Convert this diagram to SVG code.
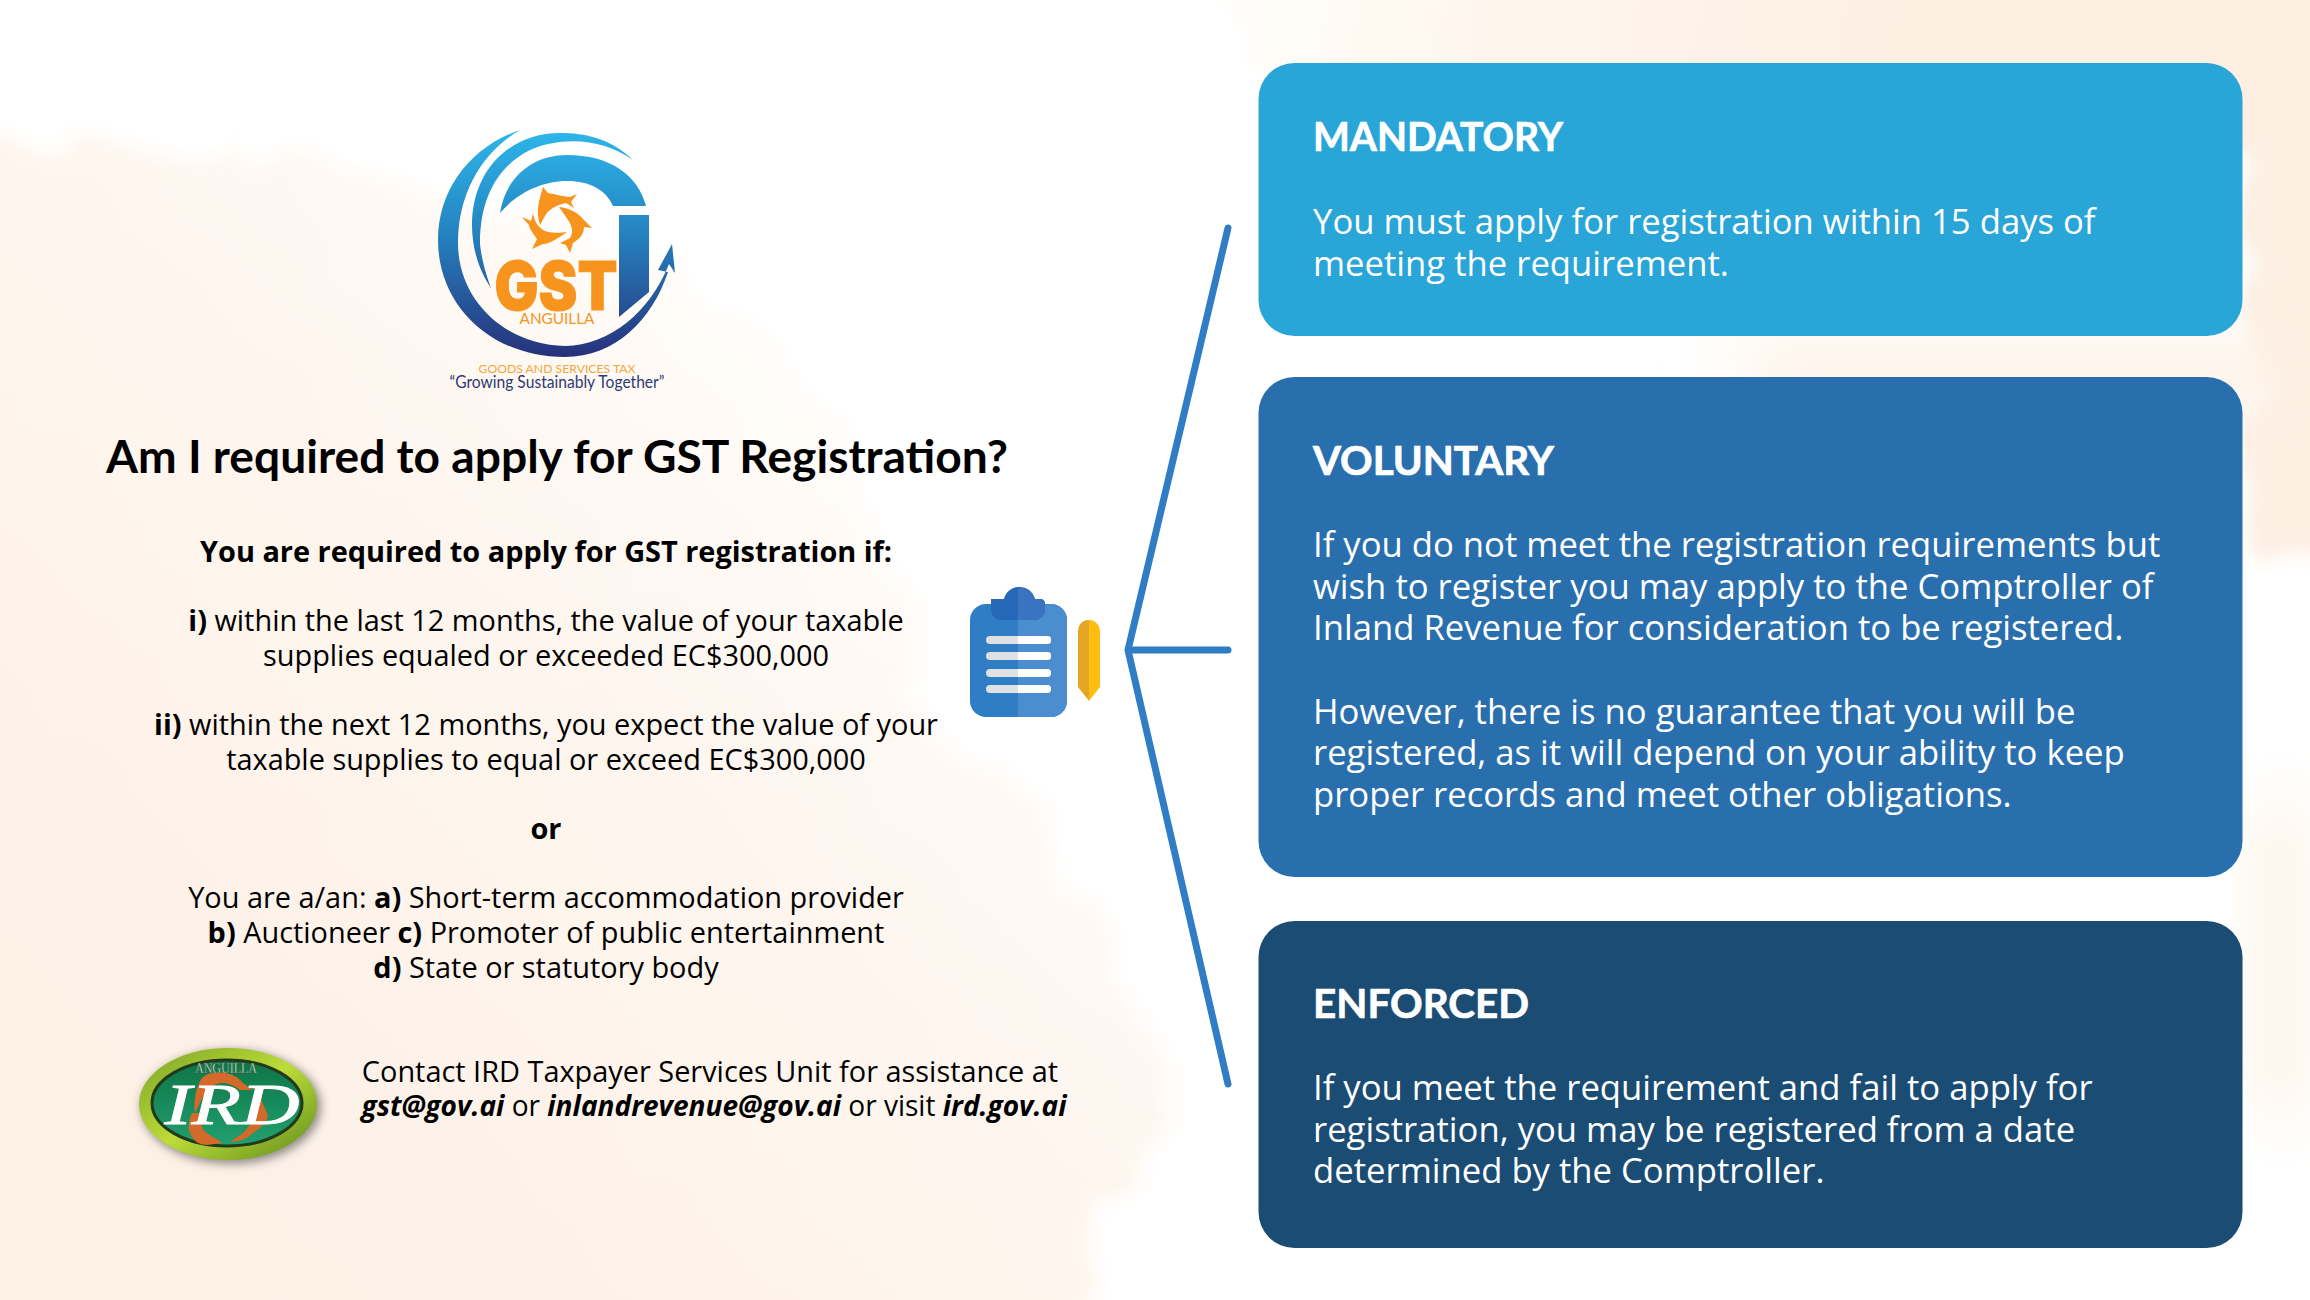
<svg xmlns="http://www.w3.org/2000/svg" width="2310" height="1300" viewBox="0 0 2310 1300">
<style>
.b{font-family:"Open Sans","Noto Sans",sans-serif;font-size:34.67px;fill:#fff}
.h{font-family:"Lato","Open Sans",sans-serif;font-size:40px;font-weight:700;fill:#fff;stroke:#fff;stroke-width:.7}
.t{font-family:"Open Sans","Noto Sans",sans-serif;font-size:28.9px;fill:#000;text-anchor:middle}
.s{font-weight:700}
.i{font-style:italic;font-weight:700}
.c{fill:none;stroke:#2f7dc4;stroke-width:7;stroke-linecap:round;stroke-linejoin:round}
.o{fill:#f7941e}
.d{fill:#d36a2a}
</style>
<defs>
<filter id="wash" x="-10%" y="-10%" width="120%" height="120%"><feTurbulence type="fractalNoise" baseFrequency=".012" numOctaves="4" seed="7"/><feDisplacementMap in="SourceGraphic" scale="70" xChannelSelector="R" yChannelSelector="G"/><feGaussianBlur stdDeviation="9"/></filter>
<filter id="bl" x="-30%" y="-30%" width="160%" height="160%"><feGaussianBlur stdDeviation="30"/></filter>
<filter id="bl2" x="-30%" y="-30%" width="160%" height="160%"><feGaussianBlur stdDeviation="5"/></filter>
<linearGradient id="lg" gradientUnits="userSpaceOnUse" x1="0" y1="130" x2="0" y2="357"><stop offset="0" stop-color="#2db7ea"/><stop offset=".45" stop-color="#2583c0"/><stop offset="1" stop-color="#27317a"/></linearGradient>
<linearGradient id="ov" x1="0" y1="0" x2="0" y2="1"><stop offset="0" stop-color="#0d7447"/><stop offset="1" stop-color="#22a06f"/></linearGradient>
<linearGradient id="rim" x1="0" y1="0" x2="1" y2="1"><stop offset="0" stop-color="#7da328"/><stop offset=".5" stop-color="#bcdc38"/><stop offset="1" stop-color="#5f8a1c"/></linearGradient>
<linearGradient id="wa" gradientUnits="userSpaceOnUse" x1="100" y1="1250" x2="1000" y2="350"><stop offset="0" stop-color="#fdf0e4"/><stop offset=".6" stop-color="#fef6ef"/><stop offset="1" stop-color="#fffefd"/></linearGradient>
<linearGradient id="wb" gradientUnits="userSpaceOnUse" x1="1230" y1="0" x2="1900" y2="0"><stop offset="0" stop-color="#fffdfa"/><stop offset=".4" stop-color="#fef6ed"/><stop offset="1" stop-color="#fdefe2"/></linearGradient>
</defs>
<rect width="2310" height="1300" fill="#fff"/>
<g id="background">
<path filter="url(#wash)" fill="url(#wa)" d="M-80 140 C100 130 200 170 300 165 C450 160 600 250 760 330 C850 400 900 550 920 700 C1000 800 1150 950 1180 1120 C1100 1200 1080 1260 1060 1360 L-80 1360 Z"/>
<path filter="url(#wash)" fill="url(#wb)" d="M1210 -60 H2370 V560 L2250 560 L2250 150 L1300 170 C1270 120 1240 60 1210 -60 Z"/>
<path filter="url(#bl)" fill="#fdf1e4" d="M1700 335 H2310 V420 H1800 Z" opacity=".8"/>
<path filter="url(#bl)" fill="#fdf1e4" d="M2250 800 H2310 V1120 H2250 Z" opacity=".8"/>
</g>
<g id="connectors">
<path class="c" d="M1228 228 L1128 650 L1228 1084"/>
<path class="c" d="M1130 650 L1228 650"/>
</g>
<g id="mandatory">
<rect x="1258.5" y="63" width="984" height="273" rx="36" fill="#29a5d7"/>
<text class="h" x="1313" y="151" textLength="250" lengthAdjust="spacingAndGlyphs">MANDATORY</text>
<text class="b" x="1313" y="234">You must apply for registration within 15 days of</text>
<text class="b" x="1313" y="276">meeting the requirement.</text>
</g>
<g id="voluntary">
<rect x="1258.5" y="377" width="984" height="500" rx="36" fill="#2a6fad"/>
<text class="h" x="1313" y="475" textLength="241" lengthAdjust="spacingAndGlyphs">VOLUNTARY</text>
<text class="b" x="1313" y="557">If you do not meet the registration requirements but</text>
<text class="b" x="1313" y="599">wish to register you may apply to the Comptroller of</text>
<text class="b" x="1313" y="640">Inland Revenue for consideration to be registered.</text>
<text class="b" x="1313" y="724">However, there is no guarantee that you will be</text>
<text class="b" x="1313" y="765">registered, as it will depend on your ability to keep</text>
<text class="b" x="1313" y="807">proper records and meet other obligations.</text>
</g>
<g id="enforced">
<rect x="1258.5" y="921" width="984" height="327" rx="36" fill="#1b4c74"/>
<text class="h" x="1313" y="1018" textLength="216" lengthAdjust="spacingAndGlyphs">ENFORCED</text>
<text class="b" x="1313" y="1100">If you meet the requirement and fail to apply for</text>
<text class="b" x="1313" y="1142">registration, you may be registered from a date</text>
<text class="b" x="1313" y="1183">determined by the Comptroller.</text>
</g>
<g id="clipboard">
<rect x="970" y="604" width="97" height="113" rx="16" fill="#2f7dc4"/>
<path d="M1018 604 H1051 A16 16 0 0 1 1067 620 V701 A16 16 0 0 1 1051 717 H1018 Z" fill="#4a8ed0"/>
<path d="M991 599 H1004 C1008 583 1031 583 1035 599 H1040 Q1045 599 1045 604 V608 Q1045 620 1033 620 H1003 Q991 620 991 608 Z" fill="#2767b8"/>
<path d="M1018 588 C1026 588 1032 592 1035 599 H1040 Q1045 599 1045 604 V608 Q1045 620 1033 620 H1018 Z" fill="#3a73bf"/>
<g fill="#dfe1e3"><rect x="986" y="636" width="65" height="8" rx="4"/><rect x="986" y="652" width="65" height="8" rx="4"/><rect x="986" y="669" width="65" height="8" rx="4"/><rect x="986" y="685" width="65" height="8" rx="4"/></g>
<g fill="#fff"><path d="M1018 636 H1047 a4 4 0 0 1 0 8 H1018 Z"/><path d="M1018 652 H1047 a4 4 0 0 1 0 8 H1018 Z"/><path d="M1018 669 H1047 a4 4 0 0 1 0 8 H1018 Z"/><path d="M1018 685 H1047 a4 4 0 0 1 0 8 H1018 Z"/></g>
<path d="M1089 620 C1081 620 1078 626 1078 632 V687 L1089 701 Z" fill="#e3a725"/>
<path d="M1089 620 C1096 620 1100 626 1100 632 V687 L1089 701 Z" fill="#ffbd0f"/>
</g>
<g id="gst-logo">
<path fill="url(#lg)" d="M520 130 C470 147 438 190 438 240 C438 305 490 357 565 357 C615 357 652 320 668 272 L658 270 L672 244 L675 273 L669 264 C650 312 610 345 565 346 C505 345 458 300 458 243 C458 190 485 150 520 130 Z"/>
<path fill="url(#lg)" d="M633 160 C610 138 585 133 560 133 C510 133 472 170 472 225 C472 250 480 272 491 288 C482 265 480 245 480 243 C480 195 500 165 530 150 C565 135 605 140 633 160 Z"/>
<path fill="url(#lg)" d="M500 213 C505 180 530 155 567 155 C610 155 638 175 646 206 H613 C606 190 590 181 567 181 C540 181 515 195 500 213 Z"/>
<path fill="url(#lg)" d="M619 215 H649 V292 L619 317 Z"/>
<path class="o" d="M540 225 C535 210 540 198 543 187 L548 193 C555 194 565 197 570 197 L577 194 L571 202 L574 208 L566 203 C556 205 548 210 545 216 Z"/>
<path class="o" d="M559 207 C570 208 578 213 583 219 L592 228 L584 227 C584 235 578 240 573 243 L570 253 L566 245 L560 243 L570 238 C574 232 572 225 566 217 Z"/>
<path class="o" d="M567 232 C558 238 550 244 543 244 L532 249 L537 239 C532 232 529 228 529 225 L522 217 L531 221 L533 213 C534 222 540 230 548 232 C555 233 560 233 567 232 Z"/>
<text x="556" y="310" text-anchor="middle" font-family="Inter,Lato,sans-serif" font-weight="900" font-size="68" fill="#f7941e" stroke="#f7941e" stroke-width="1" textLength="123" lengthAdjust="spacingAndGlyphs">GST</text>
<text x="557" y="324" text-anchor="middle" font-family="Lato,sans-serif" font-size="15" fill="#f7941e" textLength="75" lengthAdjust="spacingAndGlyphs">ANGUILLA</text>
<text x="557" y="373" text-anchor="middle" font-family="Lato,sans-serif" font-size="12" fill="#f4a63c" textLength="157" lengthAdjust="spacingAndGlyphs">GOODS AND SERVICES TAX</text>
<text x="557" y="388" text-anchor="middle" font-family="Lato,sans-serif" font-size="17" fill="#2d3a74" textLength="215" lengthAdjust="spacingAndGlyphs">“Growing Sustainably Together”</text>
</g>
<g id="question">
<text x="557" y="473" text-anchor="middle" font-family="Lato,sans-serif" font-weight="700" font-size="45" fill="#000" textLength="902" lengthAdjust="spacingAndGlyphs">Am I required to apply for GST Registration?</text>
<text class="t s" x="546" y="562">You are required to apply for GST registration if:</text>
<text class="t" x="546" y="631"><tspan class="s">i)</tspan> within the last 12 months, the value of your taxable</text>
<text class="t" x="546" y="666">supplies equaled or exceeded EC$300,000</text>
<text class="t" x="546" y="735"><tspan class="s">ii)</tspan> within the next 12 months, you expect the value of your</text>
<text class="t" x="546" y="770">taxable supplies to equal or exceed EC$300,000</text>
<text class="t s" x="546" y="839">or</text>
<text class="t" x="546" y="908">You are a/an: <tspan class="s">a)</tspan> Short-term accommodation provider</text>
<text class="t" x="546" y="943"><tspan class="s">b)</tspan> Auctioneer <tspan class="s">c)</tspan> Promoter of public entertainment</text>
<text class="t" x="546" y="978"><tspan class="s">d)</tspan> State or statutory body</text>
</g>
<g id="contact">
<text class="t" x="710" y="1082">Contact IRD Taxpayer Services Unit for assistance at</text>
<text class="t" x="714" y="1116" textLength="705" lengthAdjust="spacingAndGlyphs"><tspan class="i">gst@gov.ai</tspan> or <tspan class="i">inlandrevenue@gov.ai</tspan> or visit <tspan class="i">ird.gov.ai</tspan></text>
</g>
<g id="ird-logo">
<ellipse cx="231" cy="1107" rx="90" ry="57" fill="#3a3a3a" opacity=".55" filter="url(#bl2)"/>
<ellipse cx="228" cy="1104" rx="89" ry="56" fill="url(#rim)"/>
<ellipse cx="227" cy="1103" rx="75" ry="43" fill="url(#ov)" stroke="#23391a" stroke-width="3"/>
<path class="d" d="M195 1113 C193 1098 198 1082 203 1077 C212 1070 232 1070 243 1083 L253 1090 L240 1090 C233 1085 228 1083 223 1083 C215 1083 210 1087 203 1097 Z"/>
<path class="d" d="M192 1113 C188 1122 188 1130 190 1133 C194 1142 200 1145 207 1145 L223 1143 L213 1137 C207 1134 203 1130 202 1127 L200 1113 Z"/>
<path class="d" d="M230 1142 C240 1142 250 1137 253 1133 C262 1127 270 1120 267 1113 L260 1097 L257 1117 L243 1133 Z"/>
<text x="226" y="1073" text-anchor="middle" font-family="Liberation Serif,serif" font-size="14" fill="#d8e2d0" stroke="#3a4a30" stroke-width=".3" textLength="62" lengthAdjust="spacingAndGlyphs">ANGUILLA</text>
<text x="232" y="1124" text-anchor="middle" font-family="Liberation Serif,serif" font-style="italic" font-size="58" fill="#fff" stroke="#fff" stroke-width=".8" textLength="135" lengthAdjust="spacingAndGlyphs">IRD</text>
</g>
</svg>
